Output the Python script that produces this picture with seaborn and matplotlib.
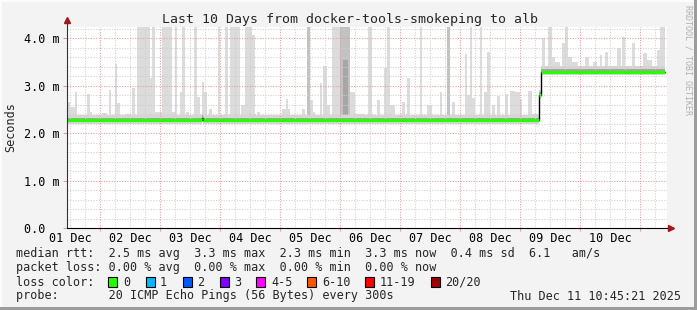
import numpy as np
import pandas as pd
import matplotlib
matplotlib.use("Agg")
import matplotlib.pyplot as plt
from matplotlib.patches import Rectangle
from matplotlib.lines import Line2D
import seaborn as sns

# ---------------- data ----------------
title = "Last 10 Days from docker-tools-smokeping to alb"
day_labels = ["01 Dec", "02 Dec", "03 Dec", "04 Dec", "05 Dec",
              "06 Dec", "07 Dec", "08 Dec", "09 Dec", "10 Dec"]
y_ticks = [0, 1, 2, 3, 4]
y_tick_labels = ["0.0  ", "1.0 m", "2.0 m", "3.0 m", "4.0 m"]
x_start, x_end = 0.448, 10.448          # days since 01 Dec 00:00
y_top = 4.24                            # ms

# median rtt (ms), step segments: value holds from edge[i] to edge[i+1]
median_edges = [0.448, 2.69, 2.72, 8.315, 8.34, 10.415]
median_vals = [2.27, 2.33, 2.27, 2.80, 3.30]

# smoke spikes: start day, end day, top value (ms), density level
spike_start = [0.448, 0.498, 0.582, 0.782, 0.832, 1.032, 1.148, 1.248, 1.282, 1.415,
               1.532, 1.615, 1.832, 1.865, 1.915, 2.032, 2.198, 2.248, 2.332, 2.365,
               2.432, 2.565, 2.615, 2.698, 2.732, 2.815, 2.965, 3.082, 3.165, 3.348,
               3.415, 3.532, 3.615, 4.032, 4.098, 4.365, 4.448, 4.498, 4.548, 4.665,
               4.715, 4.782, 4.865, 4.998, 5.048, 5.165, 5.248, 5.465, 5.615, 5.732,
               5.782, 5.832, 6.032, 6.115, 6.332, 6.448, 6.665, 6.782, 6.865, 7.082,
               7.115, 7.165, 7.198, 7.332, 7.398, 7.448, 7.532, 7.615, 7.748, 7.832,
               7.915, 7.998, 8.132, 8.198, 8.365, 8.465, 8.532, 8.582, 8.698, 8.748,
               8.798, 8.865, 9.082, 9.215, 9.332, 9.415, 9.615, 9.698, 9.865, 10.048,
               10.115, 10.282, 10.332]
spike_end = [0.498, 0.582, 0.615, 0.832, 0.865, 1.115, 1.182, 1.282, 1.332, 1.498,
             1.582, 1.832, 1.865, 1.915, 2.032, 2.198, 2.248, 2.282, 2.365, 2.415,
             2.482, 2.615, 2.665, 2.732, 2.782, 2.865, 2.998, 3.132, 3.332, 3.415,
             3.532, 3.582, 3.665, 4.165, 4.132, 4.415, 4.498, 4.548, 4.582, 4.698,
             4.782, 4.832, 5.165, 5.165, 5.132, 5.248, 5.415, 5.532, 5.665, 5.782,
             5.832, 5.915, 6.082, 6.165, 6.365, 6.532, 6.698, 6.832, 6.915, 7.115,
             7.165, 7.198, 7.248, 7.365, 7.448, 7.498, 7.582, 7.665, 7.798, 7.915,
             7.998, 8.032, 8.198, 8.298, 8.415, 8.532, 8.582, 8.665, 8.748, 8.798,
             8.865, 8.965, 9.148, 9.282, 9.365, 9.465, 9.682, 9.748, 9.915, 10.115,
             10.198, 10.332, 10.415]
spike_top = [2.65, 2.56, 2.86, 2.82, 2.45, 2.42, 2.91, 3.45, 2.63, 2.40,
             2.95, 4.30, 3.16, 4.30, 2.45, 4.30, 2.45, 4.30, 2.87, 4.30,
             2.45, 4.30, 2.77, 3.07, 2.87, 2.50, 4.30, 4.30, 4.30, 2.60,
             4.30, 4.08, 2.45, 2.52, 2.73, 2.50, 4.30, 2.70, 2.45, 3.05,
             3.42, 2.60, 4.30, 4.30, 3.55, 2.87, 2.40, 4.30, 2.71, 3.37,
             4.30, 2.60, 2.65, 3.17, 4.30, 2.60, 2.86, 4.30, 2.65, 3.66,
             2.80, 4.30, 2.75, 4.30, 2.86, 3.72, 2.60, 2.78, 2.82, 2.88,
             2.86, 2.73, 2.90, 2.40, 4.00, 4.30, 3.61, 3.51, 3.90, 4.30,
             3.60, 3.50, 3.60, 3.51, 3.65, 3.71, 3.79, 4.02, 3.90, 3.69,
             3.55, 3.76, 4.30]
spike_level = [1] * 36 + [2] + [1] * 6 + [2, 3] + [1] * 12 + [2] + [1] * 35

loss_labels = ["0", "1", "2", "3", "4-5", "6-10", "11-19", "20/20"]
loss_colors = ["#26ff00", "#00b8ff", "#0059ff", "#7e00ff", "#ff00ff",
               "#ff5500", "#ff0000", "#a10000"]

legend_lines = [
    "median rtt:  2.5 ms avg  3.3 ms max  2.3 ms min  3.3 ms now  0.4 ms sd  6.1   am/s",
    "packet loss: 0.00 % avg  0.00 % max  0.00 % min  0.00 % now",
    "loss color:",
    "probe:       20 ICMP Echo Pings (56 Bytes) every 300s",
]
timestamp = "Thu Dec 11 10:45:21 2025"
watermark = "RRDTOOL / TOBI OETIKER"

# ---------------- style ----------------
sns.set_theme(style="white")
MONO = ["DejaVu Sans Mono"]
plt.rcParams["font.family"] = MONO
W, H = 697, 310
BG = "#f3f3f3"

fig = plt.figure(figsize=(W / 100, H / 100), dpi=100, facecolor=BG)
ax = fig.add_axes([67 / W, (H - 228) / H, 600 / W, 201 / H])
ax.set_facecolor("white")
ax.set_xlim(x_start, x_end)
ax.set_ylim(0, y_top)

# grid (rrdtool style, drawn over smoke)
dot = (0, (1, 1.5))
minor_x = [d / 4 for d in range(0, 45) if d % 4 != 0 and x_start < d / 4 < x_end]
major_x = [d for d in range(1, 11)]
minor_y = [v / 5 for v in range(1, 22) if v % 5 != 0]
ax.vlines(minor_x, 0, y_top, colors="#cfcfcf", linewidth=0.75, linestyles=dot, zorder=2.5)
ax.hlines(minor_y, x_start, x_end, colors="#cfcfcf", linewidth=0.75, linestyles=dot, zorder=2.5)
ax.vlines(major_x, 0, y_top, colors="#e89a9a", linewidth=0.75, linestyles=dot, zorder=2.6)
ax.hlines(y_ticks[1:], x_start, x_end, colors="#e89a9a", linewidth=0.75, linestyles=dot, zorder=2.6)
ax.vlines(major_x, -3 / 47.4, 0, colors="#e89a9a", linewidth=0.75, clip_on=False, zorder=2.6)
ax.hlines(y_ticks, x_start - 4 / 60, x_start, colors="#e89a9a", linewidth=0.75, clip_on=False, zorder=2.6)

# smoke spikes
edges = np.array(median_edges)
vals = np.array(median_vals)
level_colors = {1: "#dcdcdc", 2: "#c2c2c2", 3: "#a6a6a6"}
spk = pd.DataFrame({"start": spike_start, "end": spike_end,
                    "top": spike_top, "level": spike_level})
idx = np.clip(np.searchsorted(edges, spk["start"].values + 1e-6, side="right") - 1, 0, len(vals) - 1)
spk["base"] = vals[idx]
for lvl in sorted(spk["level"].unique()):
    s = spk[spk["level"] == lvl]
    ax.bar(s["start"], s["top"] - s["base"], width=s["end"] - s["start"], bottom=s["base"],
           align="edge", color=level_colors[lvl], linewidth=0, zorder=1 + lvl * 0.1)

# smoke band around the median
step_x = np.append(edges[:-1], edges[-1])
step_v = np.append(vals, vals[-1])
ax.fill_between(step_x, step_v - 0.07, step_v + 0.12, step="post", color="#d6d6d6", linewidth=0, zorder=2)
ax.fill_between(step_x, step_v - 0.04, step_v + 0.06, step="post", color="#a4a4a4", linewidth=0, zorder=2.1)

# median line: black connecting steps + loss-colored (green) segments
med_df = pd.DataFrame({"t": step_x, "rtt": step_v})
sns.lineplot(data=med_df, x="t", y="rtt", drawstyle="steps-post", color="black",
             linewidth=1.0, ax=ax, zorder=3, legend=False)
ax.hlines(vals, edges[:-1], edges[1:], colors=loss_colors[0], linewidth=2.3, zorder=3.2)

# axes / arrows
for s in ax.spines.values():
    s.set_visible(False)
ax.add_line(Line2D([0, 0], [0, 1 + 7 / 201], transform=ax.transAxes, color="#333333",
                   linewidth=0.8, clip_on=False, zorder=4))
ax.add_line(Line2D([0, 1 + 3 / 600], [0, 0], transform=ax.transAxes, color="black",
                   linewidth=0.8, clip_on=False, zorder=4))
ax.plot([0], [1 + 7 / 201], marker="^", markersize=5, color="#a01818",
        transform=ax.transAxes, clip_on=False, zorder=5)
ax.plot([1 + 4 / 600], [0], marker=">", markersize=5, color="#a01818",
        transform=ax.transAxes, clip_on=False, zorder=5)

# ticks & labels
ax.set_xticks([i + 0.5 for i in range(10)])
ax.set_xticklabels(day_labels)
ax.set_yticks(y_ticks)
ax.set_yticklabels(y_tick_labels)
ax.tick_params(axis="both", length=0, labelsize=8.5, colors="black")
ax.tick_params(axis="x", pad=3)
ax.tick_params(axis="y", pad=5)
for lab in ax.get_xticklabels() + ax.get_yticklabels():
    lab.set_family(MONO)
ax.set_xlabel("")
ax.set_ylabel("")

# texts
fig.text(350 / W, 1 - 19 / H, title, ha="center", va="center", fontsize=9.5, family=MONO)
fig.text(11 / W, 1 - 127 / H, "Seconds", rotation=90, ha="center", va="center", fontsize=8.5, family=MONO)
fig.text(688 / W, 1 - 5 / H, watermark, rotation=270, ha="center", va="top", fontsize=6,
         color="#b0b0b0", family=MONO)

line_y = [254, 268, 282, 296]
for txt, yy in zip(legend_lines, line_y):
    fig.text(16 / W, 1 - yy / H, txt, ha="left", va="center", fontsize=8.5, family=MONO)
fig.text(681 / W, 1 - 296 / H, timestamp, ha="right", va="center", fontsize=8.5, family=MONO)

box_x = [108, 146, 183, 220, 256, 307, 365, 431]
lab_x = [123, 160, 197, 234, 271, 322, 380, 445]
for bx, lx, lab, col in zip(box_x, lab_x, loss_labels, loss_colors):
    fig.patches.append(Rectangle((bx / W, 1 - 287 / H), 9 / W, 10 / H, transform=fig.transFigure,
                                 facecolor=col, edgecolor="black", linewidth=0.8))
    fig.text(lx / W, 1 - 282 / H, lab, ha="left", va="center", fontsize=8.5, family=MONO)

# frame (3D border like rrdtool)
fig.patches.append(Rectangle((0, 0), 2 / W, 1, transform=fig.transFigure, facecolor="#fcfcfc", linewidth=0))
fig.patches.append(Rectangle((0, 1 - 2 / H), 1, 2 / H, transform=fig.transFigure, facecolor="#fcfcfc", linewidth=0))
fig.patches.append(Rectangle((1 - 3 / W, 0), 3 / W, 1, transform=fig.transFigure, facecolor="#9c9c9c", linewidth=0))
fig.patches.append(Rectangle((0, 0), 1, 3 / H, transform=fig.transFigure, facecolor="#9c9c9c", linewidth=0))

fig.savefig("out.png", dpi=100, facecolor=BG)
